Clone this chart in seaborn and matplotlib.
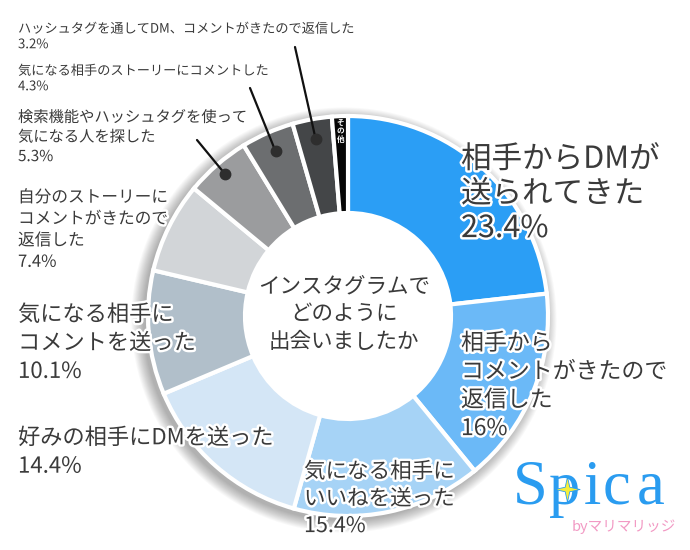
import numpy as np
import matplotlib
matplotlib.use("Agg")
import matplotlib.pyplot as plt
import matplotlib.patheffects as pe
from matplotlib.path import Path
import seaborn as sns

# ---- data ----
categories = [
    "相手からDMが送られてきた",
    "相手からコメントがきたので返信した",
    "気になる相手にいいねを送った",
    "好みの相手にDMを送った",
    "気になる相手にコメントを送った",
    "自分のストーリーにコメントがきたので返信した",
    "検索機能やハッシュタグを使って気になる人を探した",
    "気になる相手のストーリーにコメントした",
    "ハッシュタグを通してDM、コメントがきたので返信した",
    "その他",
]
values = [23.4, 16.0, 15.4, 14.4, 10.1, 7.4, 5.3, 4.3, 3.2, 1.3]
value_labels = ["23.4%", "16%", "15.4%", "14.4%", "10.1%", "7.4%", "5.3%", "4.3%", "3.2%", ""]
colors = ["#2b9ef5", "#6bb9f7", "#a6d3f6", "#d4e6f6", "#b1bfca",
          "#d2d5d8", "#9b9c9e", "#6c6e70", "#444648", "#060606"]
center_title = "インスタグラムで\nどのように\n出会いましたか"
logo_letters = ["S", "p", "i", "c", "a"]

sns.set_theme(style="white")
plt.rcParams["font.family"] = ["Noto Sans CJK JP", "DejaVu Sans"]

W, H = 690, 550
fig = plt.figure(figsize=(6.9, 5.5), dpi=100)
ax = fig.add_axes([0, 0, 1, 1])

def Y(py):
    return H - py

cx, cy = 348, Y(316)
R = 200
ring = 97

# soft shadow
for i in range(1, 15):
    ax.add_patch(plt.Circle((cx - 4, cy - 4), R + i * 0.9, color="black",
                            alpha=0.022, lw=0, zorder=0))

wedges, _ = ax.pie(values, colors=colors, startangle=90, counterclock=False,
                   radius=R, center=(cx, cy),
                   wedgeprops=dict(width=ring, edgecolor="white", linewidth=3))
for w in wedges:
    w.set_zorder(2)
ax.add_patch(plt.Circle((cx, cy), R - ring, color="white", lw=0, zorder=3))

ax.set_xlim(0, W)
ax.set_ylim(0, H)
ax.set_aspect("equal")
ax.axis("off")

txtc = "#3a3a3a"
stroke = [pe.withStroke(linewidth=3.5, foreground="white")]

def lab(i, name_lines, x, yc, fs, ls):
    s = "\n".join(name_lines + [value_labels[i]])
    ax.text(x, Y(yc), s, fontsize=fs, color=txtc, ha="left", va="center",
            linespacing=ls, path_effects=stroke, zorder=6)

lab(0, ["相手からDMが", "送られてきた"], 461, 194, 22, 1.15)
lab(1, ["相手から", "コメントがきたので", "返信した"], 461, 386, 16.5, 1.3)
lab(2, ["気になる相手に", "いいねを送った"], 304, 499, 15.5, 1.3)
lab(3, ["好みの相手にDMを送った"], 18, 452, 16, 1.3)
lab(4, ["気になる相手に", "コメントを送った"], 18, 343, 16, 1.3)
lab(5, ["自分のストーリーに", "コメントがきたので", "返信した"], 18, 230, 12, 1.35)
lab(6, ["検索機能やハッシュタグを使って", "気になる人を探した"], 18, 137, 11, 1.2)
lab(7, ["気になる相手のストーリーにコメントした"], 18, 79, 9.5, 1.25)
lab(8, ["ハッシュタグを通してDM、コメントがきたので返信した"], 18, 37, 9.5, 1.25)

# leader lines with dots for the small dark slices
ends = {6: (197, 140), 7: (250, 88), 8: (295, 47)}
dot_r = {6: 188, 7: 180, 8: 180}
for i, (ex, ey) in ends.items():
    w = wedges[i]
    th = np.deg2rad((w.theta1 + w.theta2) / 2)
    dx, dy = cx + dot_r[i] * np.cos(th), cy + dot_r[i] * np.sin(th)
    ax.plot([ex, dx], [Y(ey), dy], color="#111111", lw=1.6, zorder=5)
    ax.plot([dx], [dy], "o", color="#2e2e2e", ms=7.5, zorder=5)

# その他 vertical label
w = wedges[9]
th = np.deg2rad((w.theta1 + w.theta2) / 2)
ax.text(cx + (R - 15) * np.cos(th), cy + (R - 15) * np.sin(th), "そ\nの\n他",
        fontsize=5.5, color="white", fontweight="bold", ha="center", va="center",
        linespacing=0.95, zorder=6)

# center title
ax.text(344, Y(314), center_title, fontsize=15.5, color=txtc, ha="center",
        va="center", multialignment="center", linespacing=1.35, zorder=6)

# Spica logo
for ch, lx in zip(logo_letters, [513, 549, 584, 603, 637]):
    ax.text(lx, Y(504), ch, fontsize=45, color="#2a9cf0",
            family="Liberation Serif", ha="left", va="baseline", zorder=6)
star = Path([(0, 1), (0.18, 0.18), (1, 0), (0.18, -0.18), (0, -1),
             (-0.18, -0.18), (-1, 0), (-0.18, 0.18), (0, 1)])
ax.scatter([567], [Y(489)], marker=star, s=330, color="#f5ee3a",
           edgecolor="#2a9cf0", linewidth=0.6, zorder=7)
ax.text(572, Y(527), "byマリマリッジ", fontsize=10.5, color="#f29ac4",
        ha="left", va="center", zorder=6)

fig.savefig("out.png", dpi=100)
